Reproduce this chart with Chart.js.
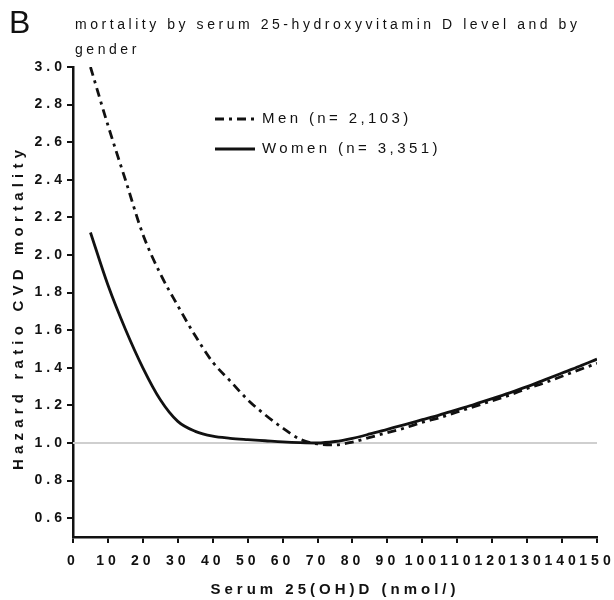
<!DOCTYPE html>
<html>
<head>
<meta charset="utf-8">
<script src="https://cdn.jsdelivr.net/npm/chart.js@4"></script>
<style>
  html, body { margin: 0; padding: 0; background: #fff; }
  canvas { display: block; }
</style>
</head>
<body>
<canvas id="hr_chart" width="614" height="600"></canvas>
<script>
// values (serum 25(OH)D in nmol/l, hazard ratio)
const serumLevels = [5, 10, 15, 20, 25, 30, 35, 40, 45, 50, 55, 60, 65, 70, 75,
  80, 85, 90, 95, 100, 105, 110, 115, 120, 125, 130, 135, 140, 145, 150];
const menHazard = [3.00, 2.69, 2.40, 2.11, 1.90, 1.73, 1.57, 1.43, 1.33, 1.23, 1.15, 1.08, 1.02, 0.995, 0.99,
  1.005, 1.03, 1.055, 1.08, 1.11, 1.135, 1.165, 1.195, 1.225, 1.255, 1.29, 1.32, 1.355, 1.39, 1.424];
const womenHazard = [2.12, 1.84, 1.605, 1.40, 1.23, 1.115, 1.062, 1.036, 1.025, 1.018, 1.012, 1.006, 1.002, 1.0, 1.008,
  1.025, 1.048, 1.073, 1.098, 1.124, 1.15, 1.178, 1.206, 1.236, 1.267, 1.30, 1.336, 1.372, 1.408, 1.446];
const referenceHazard = 1.0;
const seriesLabels = ['Men (n= 2,103)', 'Women (n= 3,351)'];

const xTicks = [0, 10, 20, 30, 40, 50, 60, 70, 80, 90, 100, 110, 120, 130, 140, 150];
const yTicks = [0.6, 0.8, 1.0, 1.2, 1.4, 1.6, 1.8, 2.0, 2.2, 2.4, 2.6, 2.8, 3.0];

const panelLetter = 'B';
const titleLines = ['mortality by serum 25-hydroxyvitamin D level and by', 'gender'];
const xTitle = 'Serum 25(OH)D (nmol/)';
const yTitle = 'Hazard ratio CVD mortality';

const FONT = '"Liberation Sans", Arial, sans-serif';
const INK = '#111';

function toPoints(values) {
  return serumLevels.map((x, i) => ({ x: x, y: values[i] }));
}

// the figure uses wide letter spacing everywhere
const spacingPlugin = {
  id: 'spacing',
  beforeLayout(chart) { chart.ctx.letterSpacing = '4px'; },
  beforeDraw(chart) {
    const ctx = chart.ctx;
    ctx.letterSpacing = '4px';
    ctx.save();
    ctx.fillStyle = '#fff';
    ctx.fillRect(0, 0, chart.width, chart.height);
    ctx.restore();
  }
};

const headerPlugin = {
  id: 'header',
  afterDraw(chart) {
    const ctx = chart.ctx;
    const area = chart.chartArea;
    ctx.save();
    ctx.fillStyle = INK;
    ctx.textAlign = 'left';
    ctx.textBaseline = 'alphabetic';
    ctx.letterSpacing = '0px';
    ctx.font = `32px ${FONT}`;
    ctx.fillText(panelLetter, 9, 33);
    ctx.font = `14px ${FONT}`;
    ctx.letterSpacing = '3.55px';
    titleLines.forEach((line, i) => ctx.fillText(line, 75, 29 + i * 25));

    // y axis title, rotated, a bit more spread than the ticks
    ctx.font = `bold 15px ${FONT}`;
    ctx.letterSpacing = '5.2px';
    ctx.textAlign = 'center';
    ctx.textBaseline = 'middle';
    ctx.translate(19, (area.top + area.bottom) / 2 + 8);
    ctx.rotate(-Math.PI / 2);
    ctx.fillText(yTitle, 2.6, 0);
    ctx.restore();
  }
};

// legend sits inside the plot, lines on the left, labels after
const legendPlugin = {
  id: 'insideLegend',
  afterDatasetsDraw(chart) {
    const ctx = chart.ctx;
    const left = 215;
    const top = 119;
    chart.data.datasets.filter(ds => ds.inLegend).forEach((ds, i) => {
      const y = top + i * 30;
      ctx.save();
      ctx.strokeStyle = ds.borderColor;
      ctx.lineWidth = ds.borderWidth;
      ctx.setLineDash(ds.borderDash || []);
      ctx.beginPath();
      ctx.moveTo(left, y);
      ctx.lineTo(left + 40, y);
      ctx.stroke();
      ctx.setLineDash([]);
      ctx.font = `15px ${FONT}`;
      ctx.letterSpacing = '3.4px';
      ctx.textAlign = 'left';
      ctx.textBaseline = 'middle';
      ctx.fillStyle = INK;
      ctx.fillText(ds.label, left + 47, y);
      ctx.restore();
    });
  }
};

new Chart(document.getElementById('hr_chart'), {
  type: 'line',
  data: {
    datasets: [{
      label: seriesLabels[0],
      data: toPoints(menHazard),
      borderColor: INK,
      borderWidth: 2.8,
      borderDash: [9, 5, 3, 5],
      inLegend: true,
      order: 0
    }, {
      label: seriesLabels[1],
      data: toPoints(womenHazard),
      borderColor: INK,
      borderWidth: 2.8,
      inLegend: true,
      order: 0
    }, {
      label: 'reference',
      data: [{ x: xTicks[0], y: referenceHazard }, { x: xTicks[xTicks.length - 1], y: referenceHazard }],
      borderColor: '#cfcfcf',
      borderWidth: 2,
      inLegend: false,
      order: 5
    }]
  },
  options: {
    responsive: false,
    animation: false,
    events: [],
    elements: {
      point: { radius: 0 },
      line: { cubicInterpolationMode: 'monotone', borderCapStyle: 'butt' }
    },
    layout: {
      padding: { left: 0, right: 17, top: 67, bottom: 0 }
    },
    scales: {
      x: {
        type: 'linear',
        min: 0,
        max: 150,
        afterFit: s => {
          s.height = 63;
          s.paddingLeft = 0;
          s.paddingRight = 0;
        },
        afterBuildTicks: axis => { axis.ticks = xTicks.map(v => ({ value: v })); },
        border: { display: true, color: INK, width: 2.5 },
        grid: { drawOnChartArea: false, drawTicks: true, tickLength: 6, color: INK, lineWidth: 2 },
        ticks: {
          color: INK,
          padding: 10,
          maxRotation: 0,
          autoSkip: false,
          font: { family: FONT, size: 14, weight: 'bold' }
        },
        title: {
          display: true,
          text: xTitle,
          color: INK,
          padding: { top: 0, bottom: 1 },
          font: { family: FONT, size: 15, weight: 'bold' }
        }
      },
      y: {
        min: 0.5,
        max: 3.0,
        afterFit: s => {
          s.width = 73;
          s.paddingTop = 0;
          s.paddingBottom = 0;
        },
        afterBuildTicks: axis => { axis.ticks = yTicks.map(v => ({ value: v })); },
        border: { display: true, color: INK, width: 2.5 },
        grid: { drawOnChartArea: false, drawTicks: true, tickLength: 6, color: INK, lineWidth: 2 },
        ticks: {
          color: INK,
          padding: 1,
          autoSkip: false,
          callback: v => Number(v).toFixed(1),
          font: { family: FONT, size: 14, weight: 'bold' }
        },
        title: { display: false }
      }
    },
    plugins: {
      legend: { display: false },
      tooltip: { enabled: false }
    }
  },
  plugins: [spacingPlugin, headerPlugin, legendPlugin]
});
</script>
</body>
</html>
